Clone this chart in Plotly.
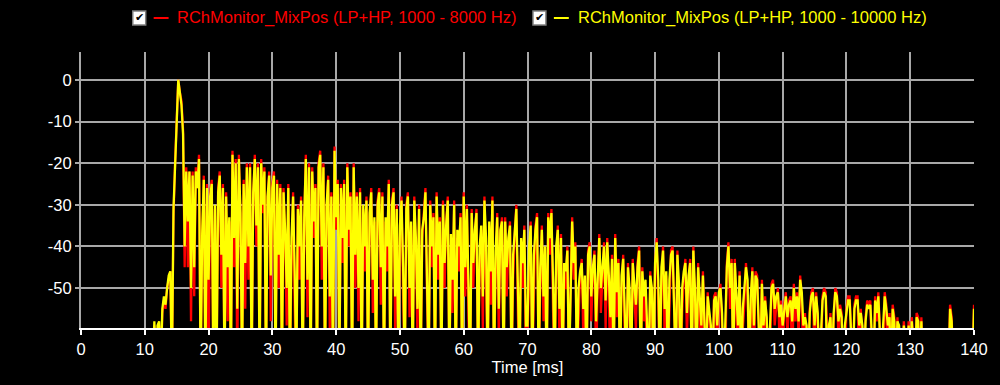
import plotly.graph_objects as go

# ---- data ----
series_names = ["RChMonitor_MixPos (LP+HP, 1000 - 8000 Hz)",
                "RChMonitor_MixPos (LP+HP, 1000 - 10000 Hz)"]
t_start_ms = 11.0
t_step_ms = 0.25

# level in dB, one value per 0.25 ms from 11.0 ms to 140.0 ms (-70 = below the shown range)
level_8k = [
    -70, -70, -59, -70, -70, -59, -70, -56, -53, -55, -50, -48, -46, -70, -33, -20, -9, 0, -3, -5,
    -12, -45, -21, -45, -22, -58, -22, -52, -21, -26, -18, -70, -40, -23, -70, -25, -70, -27, -24, -70,
    -31, -70, -26, -22, -50, -25, -70, -27, -58, -34, -70, -17, -45, -19, -70, -18, -33, -70, -24, -55,
    -20, -48, -20, -70, -28, -18, -40, -20, -70, -19, -32, -21, -70, -29, -22, -58, -25, -22, -70, -24,
    -50, -25, -70, -26, -38, -59, -25, -70, -45, -27, -55, -70, -30, -48, -28, -70, -34, -18, -57, -20,
    -70, -21, -38, -25, -70, -20, -17, -48, -20, -70, -31, -23, -60, -27, -70, -16, -36, -24, -70, -25,
    -44, -24, -70, -20, -40, -27, -70, -20, -50, -27, -58, -26, -70, -31, -46, -28, -70, -33, -26, -56,
    -34, -70, -29, -26, -54, -27, -70, -34, -46, -24, -70, -29, -26, -60, -30, -70, -38, -28, -52, -70,
    -30, -27, -57, -35, -70, -28, -42, -62, -30, -70, -38, -32, -26, -53, -70, -29, -45, -32, -70, -27,
    -48, -33, -70, -29, -50, -34, -28, -70, -40, -56, -29, -70, -38, -46, -32, -70, -27, -52, -30, -58,
    -70, -31, -50, -37, -31, -70, -45, -36, -60, -28, -42, -70, -35, -54, -28, -70, -47, -32, -62, -37,
    -33, -70, -33, -52, -40, -34, -70, -48, -37, -30, -57, -70, -39, -50, -35, -70, -62, -44, -34, -70,
    -48, -35, -32, -70, -50, -35, -58, -44, -70, -32, -42, -31, -55, -70, -44, -35, -62, -37, -70, -50,
    -50, -40, -70, -54, -33, -48, -39, -70, -56, -47, -43, -62, -50, -70, -41, -39, -58, -46, -41, -70,
    -50, -37, -56, -45, -39, -60, -38, -52, -70, -42, -70, -37, -57, -43, -70, -50, -42, -62, -70, -44,
    -56, -70, -43, -54, -60, -44, -40, -70, -45, -58, -52, -70, -70, -46, -55, -70, -45, -38, -54, -70,
    -50, -40, -62, -47, -70, -52, -41, -40, -62, -70, -41, -54, -70, -56, -47, -43, -62, -48, -43, -70,
    -40, -55, -70, -44, -57, -70, -46, -60, -70, -51, -60, -70, -70, -52, -51, -70, -52, -49, -62, -70,
    -70, -44, -39, -55, -43, -70, -43, -57, -70, -46, -70, -60, -54, -44, -52, -70, -57, -45, -70, -46,
    -47, -60, -70, -48, -70, -52, -60, -70, -70, -49, -48, -59, -54, -50, -62, -53, -70, -54, -51, -62,
    -53, -52, -70, -49, -58, -51, -62, -47, -53, -70, -56, -70, -70, -55, -51, -50, -70, -51, -59, -70,
    -70, -52, -50, -51, -70, -70, -56, -70, -58, -50, -51, -62, -54, -56, -70, -70, -55, -52, -52, -70,
    -70, -54, -52, -52, -70, -55, -70, -70, -57, -53, -54, -53, -70, -70, -52, -58, -51, -62, -70, -70,
    -51, -54, -70, -56, -70, -54, -57, -70, -57, -70, -70, -70, -58, -70, -70, -58, -70, -57, -70, -70,
    -56, -57, -70, -57, -70, -70, -70, -70, -70, -70, -70, -70, -70, -70, -70, -70, -70, -70, -70, -70,
    -70, -54, -57, -70, -70, -70, -70, -70, -70, -70, -70, -70, -70, -70, -70, -70, -54,
]

level_10k = [
    -70, -70, -58, -70, -59, -58, -70, -55, -52, -54, -50, -47, -46, -70, -31, -19, -8, 0, -3, -6,
    -13, -40, -22, -34, -22, -50, -23, -45, -22, -26, -19, -70, -37, -24, -70, -26, -48, -28, -25, -70,
    -30, -70, -27, -23, -42, -26, -70, -28, -45, -33, -70, -18, -38, -20, -55, -19, -32, -70, -25, -44,
    -21, -40, -21, -70, -27, -19, -35, -21, -70, -20, -30, -22, -70, -28, -23, -47, -26, -23, -70, -25,
    -42, -26, -70, -27, -36, -50, -26, -70, -38, -28, -46, -70, -31, -40, -29, -70, -33, -19, -48, -21,
    -70, -22, -34, -26, -70, -21, -18, -40, -21, -70, -30, -24, -52, -28, -70, -17, -33, -25, -70, -26,
    -38, -25, -70, -21, -36, -28, -70, -21, -42, -28, -50, -27, -70, -30, -40, -29, -70, -32, -27, -48,
    -33, -70, -30, -27, -45, -28, -70, -33, -40, -25, -70, -30, -27, -52, -31, -70, -35, -29, -45, -70,
    -31, -28, -50, -34, -70, -29, -38, -55, -31, -70, -36, -33, -27, -46, -70, -30, -40, -33, -70, -28,
    -42, -34, -70, -30, -44, -35, -29, -70, -37, -48, -30, -70, -36, -40, -33, -70, -28, -45, -31, -50,
    -70, -32, -44, -36, -32, -70, -40, -35, -52, -29, -38, -70, -34, -46, -29, -70, -41, -33, -55, -36,
    -34, -70, -34, -45, -38, -35, -70, -42, -36, -31, -50, -70, -38, -44, -36, -59, -59, -40, -35, -70,
    -42, -36, -33, -70, -45, -36, -52, -40, -70, -33, -38, -32, -48, -70, -40, -36, -55, -38, -70, -44,
    -46, -41, -70, -48, -34, -44, -40, -70, -50, -46, -44, -55, -47, -70, -42, -40, -52, -45, -42, -58,
    -46, -38, -50, -44, -40, -53, -39, -47, -57, -43, -70, -38, -51, -44, -70, -47, -43, -56, -70, -45,
    -50, -70, -44, -49, -54, -45, -41, -70, -46, -52, -48, -59, -70, -47, -50, -70, -44, -39, -48, -70,
    -45, -41, -55, -46, -70, -48, -42, -41, -55, -70, -42, -49, -70, -50, -46, -44, -56, -47, -44, -70,
    -41, -50, -70, -45, -52, -59, -47, -55, -70, -52, -56, -59, -70, -53, -52, -59, -51, -50, -56, -70,
    -59, -45, -40, -50, -44, -70, -44, -52, -59, -47, -70, -55, -50, -45, -48, -70, -52, -46, -59, -47,
    -48, -55, -70, -49, -59, -53, -57, -70, -59, -50, -49, -55, -52, -51, -57, -54, -59, -55, -52, -57,
    -54, -53, -58, -50, -55, -52, -58, -48, -51, -59, -57, -59, -70, -56, -52, -51, -59, -52, -56, -70,
    -59, -53, -51, -52, -70, -59, -57, -70, -56, -51, -52, -58, -55, -57, -70, -59, -56, -53, -53, -59,
    -70, -55, -53, -53, -59, -56, -59, -70, -58, -54, -55, -54, -59, -70, -53, -56, -52, -58, -70, -59,
    -52, -55, -59, -57, -70, -55, -58, -70, -58, -59, -70, -70, -59, -70, -70, -59, -70, -58, -70, -70,
    -57, -58, -70, -58, -70, -70, -70, -70, -70, -70, -70, -70, -70, -70, -70, -70, -70, -70, -70, -70,
    -70, -55, -58, -70, -70, -70, -70, -70, -70, -70, -70, -70, -70, -70, -70, -70, -55,
]

x_ticks = [0, 10, 20, 30, 40, 50, 60, 70, 80, 90, 100, 110, 120, 130, 140]
y_ticks = [0, -10, -20, -30, -40, -50]
x_title = "Time [ms]"

times_8k = [t_start_ms + i * t_step_ms for i in range(len(level_8k))]
times_10k = [t_start_ms + i * t_step_ms for i in range(len(level_10k))]

# ---- figure ----
W, H = 1000, 385
ML, MR, MT, MB = 81, 22, 52, 57
PW, PH = W - ML - MR, H - MT - MB
FONT = "Liberation Sans, Arial, sans-serif"
GRID = "#a8a8a8"
FS = 16.5


def px(xp):
    return (xp - ML) / PW


def py(yp):
    return (H - MB - yp) / PH


fig = go.Figure()
fig.add_trace(go.Scatter(x=times_8k, y=level_8k, mode="lines", name=series_names[0],
                         line=dict(color="#ff0000", width=2.3), showlegend=False))
fig.add_trace(go.Scatter(x=times_10k, y=level_10k, mode="lines", name=series_names[1],
                         line=dict(color="#ffff00", width=2.3), showlegend=False))

shapes = []
annotations = []
legend_items = [
    (133, 154, 175, series_names[0], "#ff0000"),
    (535, 556, 578, series_names[1], "#ffff00"),
]
for bx, lx, tx, name, col in legend_items:
    shapes.append(dict(type="rect", xref="paper", yref="paper",
                       x0=px(bx), x1=px(bx + 13), y0=py(25), y1=py(11),
                       fillcolor="white", line=dict(color="#808080", width=1.5), layer="above"))
    annotations.append(dict(xref="paper", yref="paper", x=px(bx + 6.5), y=py(18),
                            text="✔", showarrow=False, xanchor="center", yanchor="middle",
                            font=dict(family="DejaVu Sans", size=11, color="black")))
    shapes.append(dict(type="line", xref="paper", yref="paper",
                       x0=px(lx), x1=px(lx + 15), y0=py(18), y1=py(18),
                       line=dict(color=col, width=2), layer="above"))
    annotations.append(dict(xref="paper", yref="paper", x=px(tx), y=py(18),
                            text=name, showarrow=False, xanchor="left", yanchor="middle",
                            font=dict(family=FONT, size=FS, color=col)))

fig.update_layout(
    width=W, height=H,
    margin=dict(l=ML, r=MR, t=MT, b=MB, pad=0),
    paper_bgcolor="black", plot_bgcolor="black",
    font=dict(family=FONT, size=FS, color="white"),
    shapes=shapes, annotations=annotations,
    xaxis=dict(range=[0, 140], tickvals=x_ticks, ticktext=[str(v) for v in x_ticks],
               showgrid=True, gridcolor=GRID, gridwidth=2, zeroline=False,
               showline=True, linecolor="white", linewidth=2,
               ticks="outside", ticklen=5, tickcolor="white", tickwidth=2,
               tickfont=dict(size=FS, color="white"),
               title=dict(text=x_title, font=dict(size=FS, color="white"), standoff=2)),
    yaxis=dict(range=[-59.6, 6.7], tickvals=y_ticks, ticktext=[str(v) for v in y_ticks],
               showgrid=True, gridcolor=GRID, gridwidth=2, zeroline=False,
               showline=True, linecolor=GRID, linewidth=2,
               ticks="outside", ticklen=4, tickcolor=GRID, tickwidth=2,
               tickfont=dict(size=FS, color="white")),
)

fig.write_html("out.html", config={"displayModeBar": False},
               post_script="document.body.style.margin='0px';document.body.style.background='black';")
